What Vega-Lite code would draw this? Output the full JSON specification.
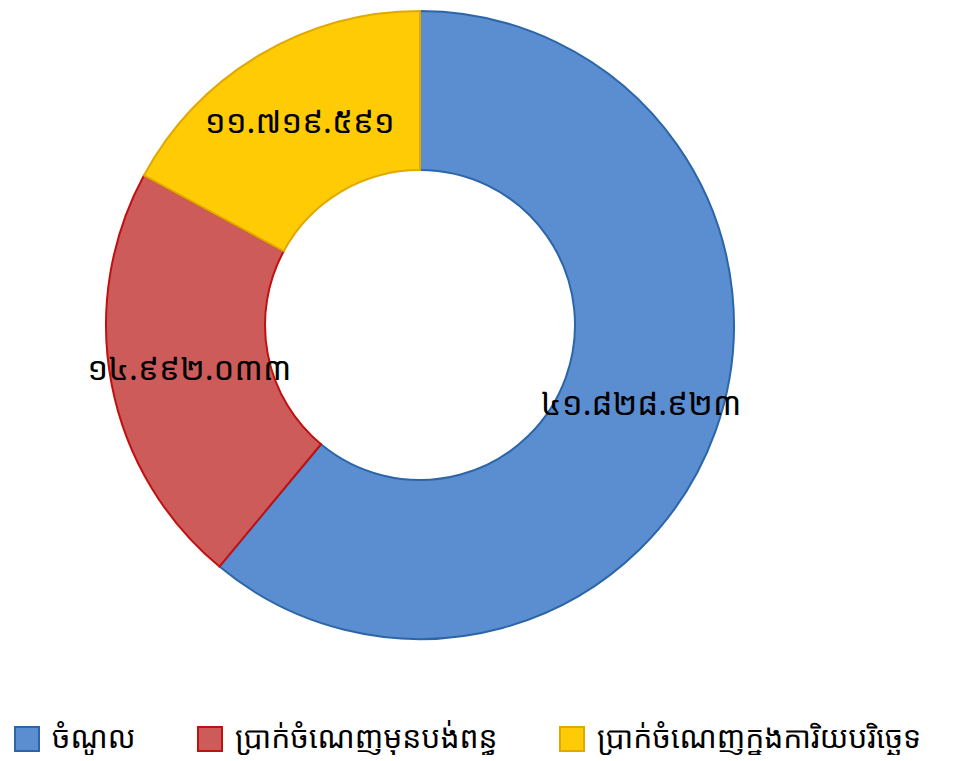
{
  "$schema": "https://vega.github.io/schema/vega-lite/v6.json",
  "width": 840,
  "height": 650,
  "padding": 0,
  "background": "white",
  "config": {"view": {"stroke": null}, "font": "Noto Sans Khmer, Khmer OS, DejaVu Sans"},
  "data": {"values": [
    {"cat": "ចំណូល", "value": 41828923, "label": "៤១.៨២៨.៩២៣", "ord": 1},
    {"cat": "ប្រាក់ចំណេញមុនបង់ពន្ធ", "value": 14992033, "label": "១៤.៩៩២.០៣៣", "ord": 2},
    {"cat": "ប្រាក់ចំណេញក្នុងការិយបរិច្ឆេទ", "value": 11719591, "label": "១១.៧១៩.៥៩១", "ord": 3}
  ]},
  "encoding": {
    "theta": {"field": "value", "type": "quantitative", "stack": true},
    "order": {"field": "ord", "type": "quantitative"}
  },
  "layer": [
    {
      "mark": {"type": "arc", "outerRadius": 314, "innerRadius": 155, "strokeWidth": 2},
      "encoding": {
        "color": {
          "field": "cat", "type": "nominal",
          "scale": {
            "domain": ["ចំណូល", "ប្រាក់ចំណេញមុនបង់ពន្ធ", "ប្រាក់ចំណេញក្នុងការិយបរិច្ឆេទ"],
            "range": ["#5A8ED0", "#CD5B59", "#FFCB05"]
          },
          "legend": {
            "title": null, "orient": "none", "legendX": 12, "legendY": 724,
            "direction": "horizontal", "symbolType": "square", "symbolSize": 576,
            "symbolStrokeWidth": 2, "labelFontSize": 30, "labelColor": "#000000",
            "columnPadding": 58, "symbolOffset": 0, "labelOffset": 10, "labelLimit": 500
          }
        },
        "stroke": {
          "field": "cat", "type": "nominal",
          "scale": {
            "domain": ["ចំណូល", "ប្រាក់ចំណេញមុនបង់ពន្ធ", "ប្រាក់ចំណេញក្នុងការិយបរិច្ឆេទ"],
            "range": ["#2C66A8", "#C01010", "#E0A800"]
          },
          "legend": null
        }
      }
    },
    {
      "mark": {"type": "text", "radius": 235, "fontSize": 33, "color": "#000000"},
      "encoding": {"text": {"field": "label"}}
    }
  ]
}
